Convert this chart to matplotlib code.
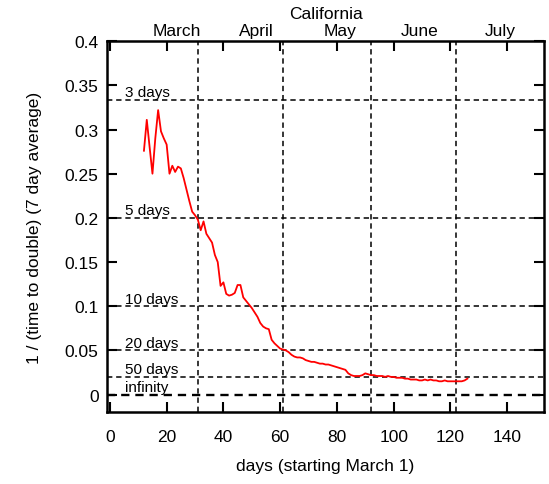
import numpy as np
import matplotlib.pyplot as plt

plt.rcParams['font.family'] = ['Liberation Sans', 'DejaVu Sans']

# 1 / (doubling time), 7 day average, one value per day starting day 12
first_day = 12
rate = [
    0.276, 0.311, 0.280, 0.250, 0.290, 0.322, 0.298, 0.290, 0.283, 0.250,
    0.259, 0.252, 0.258, 0.256, 0.245, 0.232, 0.219, 0.207, 0.203, 0.198,
    0.186, 0.196, 0.182, 0.177, 0.172, 0.158, 0.150, 0.123, 0.127, 0.114,
    0.112, 0.113, 0.115, 0.124, 0.124, 0.110, 0.106, 0.102, 0.098, 0.093,
    0.088, 0.081, 0.077, 0.075, 0.074, 0.062, 0.058, 0.055, 0.052, 0.051,
    0.050, 0.048, 0.045, 0.043, 0.042, 0.042, 0.041, 0.039, 0.038, 0.037,
    0.037, 0.036, 0.035, 0.035, 0.034, 0.034, 0.033, 0.032, 0.031, 0.030,
    0.029, 0.028, 0.024, 0.022, 0.021, 0.021, 0.021, 0.022, 0.024, 0.023,
    0.022, 0.022, 0.021, 0.021, 0.021, 0.020, 0.021, 0.020, 0.020, 0.019,
    0.019, 0.019, 0.018, 0.018, 0.017, 0.017, 0.017, 0.016, 0.016, 0.017,
    0.016, 0.017, 0.016, 0.016, 0.015, 0.015, 0.016, 0.015, 0.015, 0.015,
    0.015, 0.015, 0.015, 0.016, 0.018,
]
days = np.arange(first_day, first_day + len(rate))

# reference doubling times
ref_labels = ['3 days', '5 days', '10 days', '20 days', '50 days', 'infinity']
ref_values = [1 / 3, 1 / 5, 1 / 10, 1 / 20, 1 / 50, 0.0]

# first day of each month (day 0 = March 1)
month_starts = [31, 61, 92, 122]
month_names = ['March', 'April', 'May', 'June', 'July']
month_label_pos = [23.5, 51.5, 81, 109, 137.5]

fs = 12.5
fig = plt.figure(figsize=(5.49, 4.85), dpi=100)
ax = fig.add_axes([0.195, 0.148, 0.796, 0.765])

for v in ref_values:
    lw = 1.7 if v == 0 else 1.1
    ax.axhline(v, color='black', ls=(0, (3.5, 2.5)), lw=lw, zorder=1)
for lab, v in zip(ref_labels, ref_values):
    ax.text(5.5, v + 0.0008, lab, fontsize=11, va='bottom', ha='left')
for m in month_starts:
    ax.axvline(m, color='black', ls=(0, (3.5, 2.5)), lw=1.1, zorder=1)

ax.plot(days, rate, color='red', lw=1.3, zorder=3)

ax.set_xlim(-1, 153)
ax.set_ylim(-0.02, 0.4)
ax.set_xticks(np.arange(0, 141, 20))
ax.set_yticks(np.arange(0, 0.41, 0.05))
ax.set_yticklabels(['0', '0.05', '0.1', '0.15', '0.2', '0.25', '0.3', '0.35', '0.4'])
ax.tick_params(direction='in', length=7, width=1.5, top=True, right=True,
               labelsize=fs, pad=6)
ax.tick_params(axis='x', pad=12)
for s in ax.spines.values():
    s.set_linewidth(1.8)

ax.set_xlabel('days (starting March 1)', fontsize=fs, labelpad=10)
ax.set_ylabel('1 / (time to double) (7 day average)', fontsize=fs, labelpad=16)

for name, pos in zip(month_names, month_label_pos):
    ax.text(pos, 1.008, name, transform=ax.get_xaxis_transform(),
            ha='center', va='bottom', fontsize=fs)
ax.text(0.5, 1.055, 'California', transform=ax.transAxes,
        ha='center', va='bottom', fontsize=fs)

fig.savefig('out.png', dpi=100)
